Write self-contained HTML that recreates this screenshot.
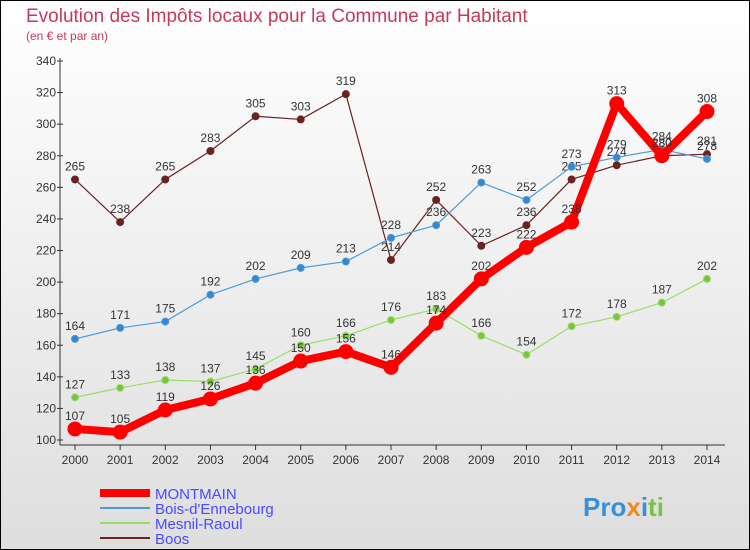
<!DOCTYPE html>
<html><head><meta charset="utf-8"><style>
body{margin:0;}
#c{width:750px;height:550px;position:relative;overflow:hidden;font-family:"Liberation Sans",sans-serif;}
</style></head><body>
<div id="c">
<svg id="svg" width="750" height="550" xmlns="http://www.w3.org/2000/svg">
<defs><linearGradient id="bg" x1="0" y1="0" x2="0" y2="1"><stop offset="0" stop-color="#ffffff"/><stop offset="1" stop-color="#dedede"/></linearGradient></defs>
<rect x="0.5" y="0.5" width="749" height="549" fill="url(#bg)" stroke="#000"/>
<text x="26" y="22" font-size="19" fill="#c8385a">Evolution des Impôts locaux pour la Commune par Habitant</text>
<text x="26" y="40" font-size="12" fill="#c8385a">(en € et par an)</text>
<g id="plot"></g>
<g>
<line x1="100" y1="493" x2="150" y2="493" stroke="#f00" stroke-width="8"/>
<text x="155" y="499" font-size="15" fill="#4a4aff">MONTMAIN</text>
<line x1="100" y1="508" x2="150" y2="508" stroke="#4f9ad6" stroke-width="2"/>
<text x="155" y="514" font-size="15" fill="#4a4aff">Bois-d'Ennebourg</text>
<line x1="100" y1="523" x2="150" y2="523" stroke="#99dd66" stroke-width="2"/>
<text x="155" y="529" font-size="15" fill="#4a4aff">Mesnil-Raoul</text>
<line x1="100" y1="538" x2="150" y2="538" stroke="#6b2222" stroke-width="2"/>
<text x="155" y="544" font-size="15" fill="#4a4aff">Boos</text>
</g>
<text x="583" y="516" font-size="26" font-weight="bold"><tspan fill="#3a8fd8">Pro</tspan><tspan fill="#f08a1c">x</tspan><tspan fill="#3a8fd8">i</tspan><tspan fill="#7cc242">ti</tspan></text>
</svg>
</div>
<script>
const years=[2000,2001,2002,2003,2004,2005,2006,2007,2008,2009,2010,2011,2012,2013,2014];
const yTicks=[100,120,140,160,180,200,220,240,260,280,300,320,340];
const montmain=[107,105,119,126,136,150,156,146,174,202,222,238,313,280,308];
const bois=[164,171,175,192,202,209,213,228,236,263,252,273,279,284,278];
const mesnil=[127,133,138,137,145,160,166,176,183,166,154,172,178,187,202];
const boos=[265,238,265,283,305,303,319,214,252,223,236,265,274,280,281];
const NS="http://www.w3.org/2000/svg";
const g=document.getElementById('plot');
const xS=i=>75+i*(707-75)/14;
const yS=v=>440-(v-100)*(440-61)/240;
function mk(t,a){const e=document.createElementNS(NS,t);for(const k in a)e.setAttribute(k,a[k]);g.appendChild(e);return e;}
let ax=mk('line',{x1:60,y1:58,x2:60,y2:445,stroke:'#333'});


let xa=mk('line',{x1:60,y1:445,x2:725,y2:445,stroke:'#333'});


yTicks.forEach(v=>{
 let t=mk('text',{x:56,y:yS(v)+4,'font-size':12,'text-anchor':'end',fill:'#333'});t.textContent=v;
 
 
 let tk=mk('line',{x1:57,y1:yS(v),x2:63,y2:yS(v),stroke:'#333'});
 
 
});
years.forEach((y,i)=>{
 let t=mk('text',{x:xS(i),y:464,'font-size':12,'text-anchor':'middle',fill:'#333'});t.textContent=y;
 
 
 let tk=mk('line',{x1:xS(i),y1:445,x2:xS(i),y2:450,stroke:'#333'});
 
 
});
function series(data,color,w,r,name,dot){
 let pts=data.map((v,i)=>xS(i)+','+yS(v)).join(' ');
 let l=mk('polyline',{points:pts,fill:'none',stroke:color,'stroke-width':w,'stroke-linejoin':'round'});
 
 
 data.forEach((v,i)=>{
  let c=mk('circle',{cx:xS(i),cy:yS(v),r:r,fill:dot,stroke:color,'stroke-width':1});
  
  
  let t=mk('text',{x:xS(i),y:yS(v)-9,'font-size':12,'text-anchor':'middle',fill:'#333'});t.textContent=v;
  
  
 });
}
series(boos,'#6b2222',1.2,3.5,'boos','#6b2222');
series(bois,'#4f9ad6',1.2,3.5,'bois','#3a86cc');
series(mesnil,'#99dd66',1.2,3.5,'mesnil','#7cc242');
series(montmain,'#ff0000',8,7,'montmain','#ff0000');
</script>
</body></html>
